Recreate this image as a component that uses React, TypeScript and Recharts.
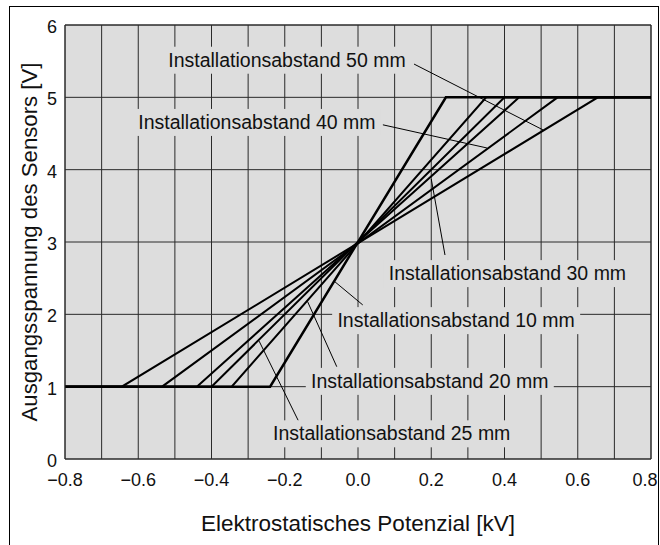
import React from 'react';
import { LineChart, Line, XAxis, YAxis, CartesianGrid, ReferenceLine, ReferenceDot, Label } from 'recharts';

// Axis ticks
const xTicks = [-0.8, -0.7, -0.6, -0.5, -0.4, -0.3, -0.2, -0.1, 0, 0.1, 0.2, 0.3, 0.4, 0.5, 0.6, 0.7, 0.8];
const xTickLabels = ['−0.8', '', '−0.6', '', '−0.4', '', '−0.2', '', '0.0', '', '0.2', '', '0.4', '', '0.6', '', '0.8'];
const yTicks = [0, 1, 2, 3, 4, 5, 6];

// Series (sensor output voltage vs. electrostatic potential)
const s10 = [{ x: -0.8, y: 1 }, { x: -0.24, y: 1 }, { x: 0.24, y: 5 }, { x: 0.8, y: 5 }];
const s20 = [{ x: -0.8, y: 1 }, { x: -0.345, y: 1 }, { x: 0.35, y: 5 }, { x: 0.8, y: 5 }];
const s25 = [{ x: -0.8, y: 1 }, { x: -0.4, y: 1 }, { x: 0.4, y: 5 }, { x: 0.8, y: 5 }];
const s30 = [{ x: -0.8, y: 1 }, { x: -0.44, y: 1 }, { x: 0.44, y: 5 }, { x: 0.8, y: 5 }];
const s40 = [{ x: -0.8, y: 1 }, { x: -0.535, y: 1 }, { x: 0.545, y: 5 }, { x: 0.8, y: 5 }];
const s50 = [{ x: -0.8, y: 1 }, { x: -0.645, y: 1 }, { x: 0.655, y: 5 }, { x: 0.8, y: 5 }];
const seriesList = [s10, s20, s25, s30, s40, s50];
const seriesWidths = [2.5, 2, 2, 2, 2, 2];

// Annotations
const labelNames = [
  'Installationsabstand 50 mm',
  'Installationsabstand 40 mm',
  'Installationsabstand 30 mm',
  'Installationsabstand 10 mm',
  'Installationsabstand 20 mm',
  'Installationsabstand 25 mm',
];
const labelX = [-0.194, -0.276, 0.408, 0.268, 0.196, 0.092];
const labelY = [5.52, 4.66, 2.57, 1.92, 1.08, 0.355];
const leaderFrom = [
  { x: 0.153, y: 5.46 },
  { x: 0.068, y: 4.62 },
  { x: 0.2375, y: 2.82 },
  { x: 0.013, y: 2.13 },
  { x: -0.058, y: 1.276 },
  { x: -0.163, y: 0.53 },
];
const leaderTo = [
  { x: 0.505, y: 4.55 },
  { x: 0.352, y: 4.3 },
  { x: 0.2, y: 3.87 },
  { x: -0.063, y: 2.45 },
  { x: -0.138, y: 2.18 },
  { x: -0.27, y: 1.63 },
];

const FONT = '"Liberation Sans", Arial, Helvetica, sans-serif';

const XTick = (props: any) => {
  const { x, y, index } = props;
  const label = xTickLabels[index] ?? '';
  if (!label) return null;
  const shift = index === xTicks.length - 1 ? -6 : 0;
  return (
    <text x={x + shift} y={y} dy="0.72em" textAnchor="middle" fontSize={18} fontFamily={FONT} fill="#111">
      {label}
    </text>
  );
};

const YTick = (props: any) => {
  const { x, y, payload } = props;
  return (
    <text x={x} y={y + 1.5} dy="0.36em" textAnchor="end" fontSize={18} fontFamily={FONT} fill="#111">
      {payload.value}
    </text>
  );
};

const makeLabelShape = (text: string) => (props: any) => {
  const { cx, cy } = props;
  return (
    <g>
      <rect x={cx - 124} y={cy - 13} width={248} height={27} fill="#dddddd" />
      <text x={cx} y={cy} dy="0.36em" textAnchor="middle" fontSize={19.5} fontFamily={FONT} fill="#111">
        {text}
      </text>
    </g>
  );
};

const YTitle = (props: any) => {
  const { viewBox } = props;
  const cx = 29.5;
  const cy = viewBox.y + viewBox.height / 2;
  return (
    <text
      x={cx}
      y={cy}
      dy="0.36em"
      transform={`rotate(-90, ${cx}, ${cy})`}
      textAnchor="middle"
      fontSize={22.2}
      fontFamily={FONT}
      fill="#111"
    >
      Ausgangsspannung des Sensors [V]
    </text>
  );
};

export default function App() {
  return (
    <div style={{ position: 'absolute', left: 0, top: 0, width: 660, height: 545, background: '#fff', overflow: 'hidden' }}>
      <div
        style={{
          position: 'absolute',
          left: 9,
          top: 6,
          width: 648,
          height: 600,
          borderLeft: '1px solid #000',
          borderTop: '1px solid #000',
          borderRight: '1px solid #000',
        }}
      />
      <div style={{ position: 'absolute', left: 0, top: 0 }}>
        <LineChart width={660} height={545} margin={{ top: 25, right: 9, left: 0, bottom: 0 }}>
          <CartesianGrid stroke="#2a2a2a" strokeWidth={1} fill="#dddddd" fillOpacity={1} />
          <XAxis
            type="number"
            dataKey="x"
            domain={[-0.8, 0.8]}
            ticks={xTicks}
            interval={0}
            allowDataOverflow
            height={86}
            tickLine={false}
            tickMargin={8}
            axisLine={{ stroke: '#2a2a2a' }}
            tick={<XTick />}
          >
            <Label
              value="Elektrostatisches Potenzial [kV]"
              position="insideBottom"
              offset={14}
              fontSize={22.5}
              fontFamily={FONT}
              fill="#111"
            />
          </XAxis>
          <YAxis
            type="number"
            domain={[0, 6]}
            ticks={yTicks}
            interval={0}
            width={65}
            tickLine={false}
            axisLine={{ stroke: '#2a2a2a' }}
            tick={<YTick />}
          >
            <Label content={<YTitle />} />
          </YAxis>
          <ReferenceLine x={0.8} stroke="#2a2a2a" />
          <ReferenceLine y={6} stroke="#2a2a2a" />
          {seriesList.map((s, i) => (
            <Line
              key={i}
              data={s}
              dataKey="y"
              type="linear"
              stroke="#000"
              strokeWidth={seriesWidths[i]}
              dot={false}
              activeDot={false}
              isAnimationActive={false}
            />
          ))}
          {labelNames.map((t, i) => (
            <ReferenceDot
              key={'lbl' + i}
              x={labelX[i]}
              y={labelY[i]}
              r={0}
              ifOverflow="visible"
              shape={makeLabelShape(t)}
            />
          ))}
          {labelNames.map((t, i) => (
            <ReferenceLine
              key={'ld' + i}
              segment={[leaderFrom[i], leaderTo[i]]}
              stroke="#000"
              strokeWidth={1}
              ifOverflow="visible"
            />
          ))}
        </LineChart>
      </div>
    </div>
  );
}
